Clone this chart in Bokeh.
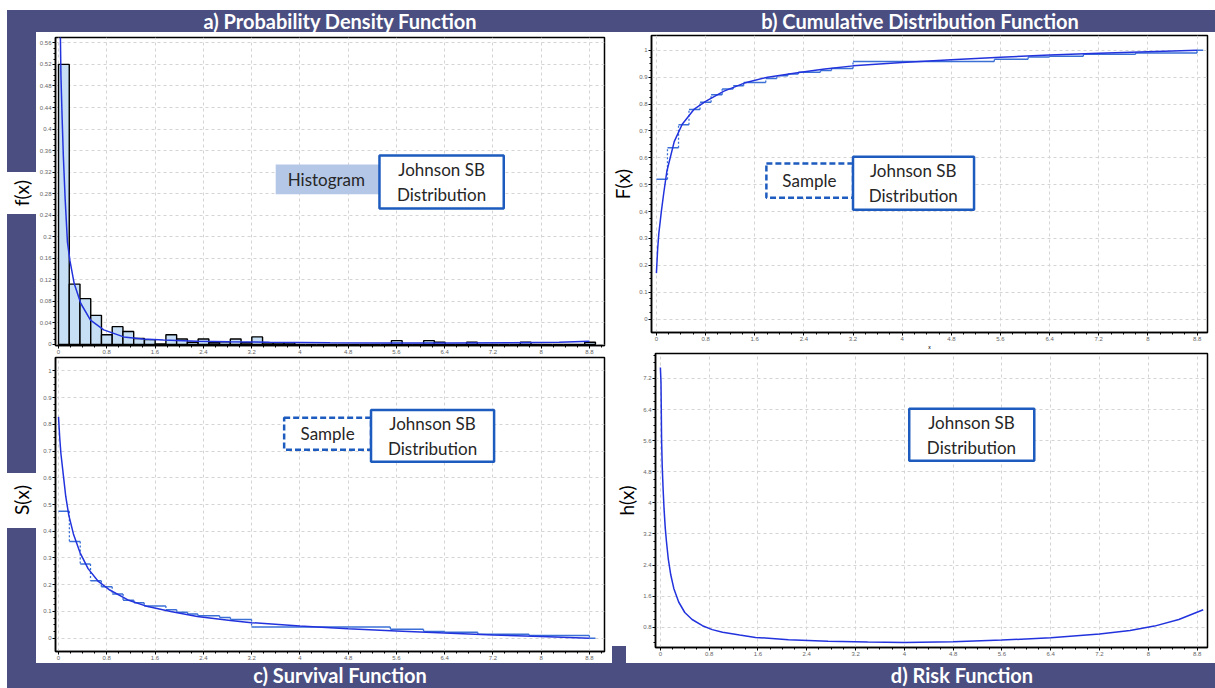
from bokeh.plotting import figure
from bokeh.layouts import row, column
from bokeh.models import Div, Spacer, FixedTicker, BoxAnnotation, Label
from bokeh.embed import file_html
from bokeh.resources import INLINE

# ---------------- data ----------------
X_TICKS = [0, 0.8, 1.6, 2.4, 3.2, 4, 4.8, 5.6, 6.4, 7.2, 8, 8.8]
X_TICK_LABELS = ["0", "0.8", "1.6", "2.4", "3.2", "4", "4.8", "5.6", "6.4", "7.2", "8", "8.8"]
PDF_Y_TICKS = [0, 0.04, 0.08, 0.12, 0.16, 0.2, 0.24, 0.28, 0.32, 0.36, 0.4, 0.44, 0.48, 0.52, 0.56]
PDF_Y_LABELS = ["0", "0.04", "0.08", "0.12", "0.16", "0.2", "0.24", "0.28", "0.32", "0.36", "0.4", "0.44", "0.48", "0.52", "0.56"]
P_Y_TICKS = [0, 0.1, 0.2, 0.3, 0.4, 0.5, 0.6, 0.7, 0.8, 0.9, 1]
P_Y_LABELS = ["0", "0.1", "0.2", "0.3", "0.4", "0.5", "0.6", "0.7", "0.8", "0.9", "1"]
H_Y_TICKS = [0.8, 1.6, 2.4, 3.2, 4, 4.8, 5.6, 6.4, 7.2]
H_Y_LABELS = ["0.8", "1.6", "2.4", "3.2", "4", "4.8", "5.6", "6.4", "7.2"]

# histogram: 50 bins of equal width starting at 0
BIN_WIDTH = 0.178
hist_heights = [0.52, 0.112, 0.085, 0.054, 0.018, 0.033, 0.024, 0.011, 0.009, 0.001,
                0.018, 0.010, 0.004, 0.010, 0.003, 0.005, 0.010, 0.003, 0.014, 0.003,
                0.003, 0.003, 0.0, 0.0, 0.0, 0.0, 0.0, 0.0, 0.0, 0.0,
                0.0, 0.007, 0.0, 0.0, 0.007, 0.004, 0.0, 0.0, 0.004, 0.0,
                0.0, 0.0, 0.0, 0.004, 0.0, 0.0, 0.0, 0.0, 0.0, 0.004]

# fitted Johnson SB density
pdf_x = [0.025, 0.04, 0.06, 0.08, 0.11, 0.148, 0.19, 0.26, 0.37, 0.53, 0.75, 1.08, 1.4, 1.74,
         2.3, 2.84, 3.5, 4.5, 5.5, 6.5, 7.5, 8.3, 8.8]
pdf_y = [0.62, 0.50, 0.42, 0.35, 0.27, 0.19, 0.155, 0.113, 0.076, 0.045, 0.027, 0.014, 0.010,
         0.008, 0.006, 0.005, 0.004, 0.003, 0.0025, 0.0025, 0.003, 0.004, 0.006]

# fitted CDF
cdf_x = [0.0, 0.02, 0.04, 0.08, 0.12, 0.17, 0.29, 0.42, 0.61, 0.80, 1.1, 1.43, 1.81, 2.35,
         2.74, 3.2, 4.0, 4.8, 5.6, 6.4, 7.2, 8.0, 8.8]
cdf_y = [0.171, 0.26, 0.32, 0.40, 0.47, 0.55, 0.66, 0.725, 0.78, 0.81, 0.848, 0.878, 0.90,
         0.918, 0.93, 0.942, 0.955, 0.965, 0.974, 0.982, 0.989, 0.995, 1.0]

# sample (empirical) steps
step_edges = [0.0, 0.18, 0.36, 0.53, 0.71, 0.89, 1.07, 1.25, 1.42, 1.78, 1.96, 2.14, 2.31,
              2.67, 2.85, 3.2, 5.5, 6.05, 6.4, 6.95, 7.8, 8.8, 8.9]
ecdf_levels = [0.52, 0.637, 0.723, 0.78, 0.807, 0.835, 0.856, 0.868, 0.88, 0.895, 0.905, 0.912,
               0.918, 0.925, 0.932, 0.958, 0.967, 0.975, 0.978, 0.985, 0.99, 1.0]
esurv_levels = [0.475, 0.362, 0.277, 0.215, 0.192, 0.165, 0.142, 0.132, 0.12, 0.106, 0.097, 0.09,
                0.084, 0.077, 0.07, 0.042, 0.033, 0.025, 0.022, 0.015, 0.01, 0.0]

# fitted survival
surv_x = [0.0, 0.02, 0.04, 0.08, 0.12, 0.17, 0.247, 0.356, 0.49, 0.66, 0.85, 1.15, 1.48,
          1.86, 2.3, 2.85, 3.2, 4.0, 4.8, 5.6, 6.4, 7.2, 8.0, 8.8]
surv_y = [0.828, 0.75, 0.69, 0.61, 0.53, 0.46, 0.39, 0.32, 0.26, 0.212, 0.18, 0.143, 0.118,
          0.10, 0.081, 0.066, 0.058, 0.045, 0.035, 0.027, 0.019, 0.012, 0.006, 0.0]

# fitted hazard
haz_x = [0.0, 0.01, 0.02, 0.03, 0.045, 0.06, 0.08, 0.1, 0.13, 0.17, 0.22, 0.3, 0.4, 0.52,
         0.69, 0.85, 1.02, 1.3, 1.56, 2.1, 2.75, 3.4, 4.0, 4.8, 5.6, 6.4, 7.2, 7.7, 8.1, 8.5, 8.9]
haz_y = [7.48, 7.1, 5.6, 4.95, 4.35, 3.85, 3.35, 3.0, 2.55, 2.15, 1.8, 1.45, 1.18, 1.0,
         0.84, 0.74, 0.67, 0.6, 0.54, 0.48, 0.44, 0.42, 0.41, 0.43, 0.47, 0.53, 0.63, 0.72,
         0.83, 1.0, 1.25]

TITLES = ["a) Probability Density Function", "b) Cumulative Distribution Function",
          "c) Survival Function", "d) Risk Function"]

# ---------------- styles ----------------
BAND = "#4a4e80"
CURVE = "#2233dd"
SAMPLE = "#3b6fd6"
LEG_BLUE = "#1d5bbf"
TEXT = "#262626"
FONT = "Lato"


def make_fig(w, h, xr, yr, bl, br, bt, bb, yticks, ylabels, yminor, **kw):
    p = figure(width=w, height=h, x_range=xr, y_range=yr, output_backend="svg",
               toolbar_location=None, min_border_left=bl, min_border_right=br,
               min_border_top=bt, min_border_bottom=bb, background_fill_color="white",
               outline_line_color="black", outline_line_width=1.5, **kw)
    p.xaxis.ticker = FixedTicker(ticks=X_TICKS, minor_ticks=[i * 0.2 for i in range(46)])
    p.yaxis.ticker = FixedTicker(ticks=yticks, minor_ticks=yminor)
    p.xaxis.major_label_overrides = {t: s for t, s in zip(X_TICKS, X_TICK_LABELS)}
    p.yaxis.major_label_overrides = {t: s for t, s in zip(yticks, ylabels)}
    for ax in p.axis:
        ax.axis_line_color = "black"
        ax.axis_line_width = 1.5
        ax.major_tick_line_color = "black"
        ax.major_tick_out = 3
        ax.major_tick_in = 0
        ax.minor_tick_line_color = "black"
        ax.minor_tick_out = 2
        ax.minor_tick_in = 0
        ax.major_label_text_font_size = "6px"
        ax.major_label_text_color = "#666666"
        ax.major_label_standoff = 1
        ax.axis_label_text_font = FONT
        ax.axis_label_text_font_style = "normal"
        ax.axis_label_text_color = "black"
    for g in (p.xgrid, p.ygrid):
        g.grid_line_color = "#d4d4d4"
        g.grid_line_dash = "3 3"
        g.grid_line_width = 1
    return p


def legend_box(p, left, right, bottom, top, fill, line, dash, text, tx, ty):
    p.add_layout(BoxAnnotation(left=left, right=right, bottom=bottom, top=top,
                               fill_color=fill, fill_alpha=1.0, line_color=line,
                               line_width=2.5, line_dash=dash, line_alpha=1.0))
    p.add_layout(Label(x=tx, y=ty, text=text, text_align="center", text_baseline="middle",
                       text_font=FONT, text_font_size="17px", text_color=TEXT,
                       text_line_height=1.2))


def draw_steps(p, levels):
    x0 = step_edges[:-1]
    x1 = step_edges[1:]
    p.segment(x0=x0, y0=levels, x1=x1, y1=levels, line_color=SAMPLE, line_width=1.5)
    p.segment(x0=x1[:-1], y0=levels[:-1], x1=x1[:-1], y1=levels[1:], line_color=SAMPLE,
              line_width=1.3, line_dash="2 2")


bin_left = [i * BIN_WIDTH for i in range(len(hist_heights))]
bin_right = [(i + 1) * BIN_WIDTH for i in range(len(hist_heights))]

# ---- a) PDF ----
pa = make_fig(572, 324, (-0.05, 9.05), (-0.002, 0.57), 19, 4, 5, 11,
              PDF_Y_TICKS, PDF_Y_LABELS, [i * 0.01 for i in range(58)], border_fill_color="white")
pa.quad(left=bin_left, right=bin_right, bottom=0, top=hist_heights, fill_color="#c6dff5",
        line_color="black", line_width=1.4)
pa.line(pdf_x, pdf_y, line_color=CURVE, line_width=1.5)
legend_box(pa, 3.60, 5.32, 0.279, 0.334, "#b4c7e7", None, "solid", "Histogram", 4.44, 0.306)
legend_box(pa, 5.32, 7.38, 0.2525, 0.351, "white", LEG_BLUE, "solid", "Johnson SB\nDistribution", 6.35, 0.302)

# ---- b) CDF ----
pb = make_fig(607, 320, (-0.08, 8.97), (-0.05, 1.055), 39, 8, 3, 15,
              P_Y_TICKS, P_Y_LABELS, [i * 0.025 for i in range(41)], border_fill_color="white")
pb.yaxis.axis_label = "F(x)"
pb.yaxis.axis_label_text_font_size = "19px"
pb.yaxis.axis_label_standoff = 2
pb.xaxis.axis_label = "x"
pb.xaxis.axis_label_text_font_size = "5px"
pb.xaxis.axis_label_standoff = 0
draw_steps(pb, ecdf_levels)
pb.line(cdf_x, cdf_y, line_color=CURVE, line_width=1.5)
legend_box(pb, 1.79, 3.20, 0.451, 0.579, "white", LEG_BLUE, "6 3", "Sample", 2.49, 0.515)
legend_box(pb, 3.20, 5.17, 0.407, 0.604, "white", LEG_BLUE, "solid", "Johnson SB\nDistribution", 4.18, 0.505)

# ---- c) Survival ----
pc = make_fig(572, 307, (-0.05, 9.05), (-0.05, 1.05), 19, 4, 1, 12,
              P_Y_TICKS, P_Y_LABELS, [i * 0.025 for i in range(41)], border_fill_color="white")
draw_steps(pc, esurv_levels)
pc.line(surv_x, surv_y, line_color=CURVE, line_width=1.5)
legend_box(pc, 3.74, 5.18, 0.705, 0.825, "white", LEG_BLUE, "6 3", "Sample", 4.46, 0.765)
legend_box(pc, 5.18, 7.22, 0.660, 0.854, "white", LEG_BLUE, "solid", "Johnson SB\nDistribution", 6.2, 0.757)

# ---- d) Hazard ----  (transparent border so the host background shows the corner block)
pd_ = make_fig(603, 311, (-0.08, 8.97), (0.28, 7.84), 34, 8, 1, 16,
               H_Y_TICKS, H_Y_LABELS, [i * 0.2 for i in range(1, 40)], border_fill_color=None,
               styles={"background": f"linear-gradient({BAND},{BAND}) 0px 294px / 14px 17px no-repeat, white"})
pd_.yaxis.axis_label = "h(x)"
pd_.yaxis.axis_label_text_font_size = "19px"
pd_.yaxis.axis_label_standoff = 2
pd_.line(haz_x, haz_y, line_color=CURVE, line_width=1.5)
legend_box(pd_, 4.08, 6.13, 5.08, 6.42, "white", LEG_BLUE, "solid", "Johnson SB\nDistribution", 5.1, 5.75)

# ---------------- bands / titles ----------------
title_css = ("position:absolute;color:white;font-family:Lato;font-weight:bold;font-size:20px;"
             "text-align:center;white-space:nowrap;")
top_html = (
    f'<div style="position:relative;width:1215px;height:32px;background:white;">'
    f'<div style="position:absolute;left:7px;top:10px;width:1208px;height:22px;background:{BAND};"></div>'
    f'<div style="{title_css}left:40px;top:10px;width:600px;height:22px;line-height:22px;">{TITLES[0]}</div>'
    f'<div style="{title_css}left:670px;top:10px;width:500px;height:22px;line-height:22px;">{TITLES[1]}</div>'
    f'</div>')
top_div = Div(text=top_html, width=1215, height=32, margin=0)

lab_css = ("position:absolute;left:22px;transform:translate(-50%,-50%) rotate(-90deg);"
           "font-family:Lato;font-size:19px;color:black;white-space:nowrap;")
band_html = (
    f'<div style="position:relative;width:36px;height:631px;background:white;">'
    f'<div style="position:absolute;left:7px;top:0;width:29px;height:631px;background:{BAND};"></div>'
    f'<div style="position:absolute;left:7px;top:140px;width:29px;height:42px;background:white;"></div>'
    f'<div style="position:absolute;left:7px;top:441px;width:29px;height:55px;background:white;"></div>'
    f'<div style="{lab_css}top:161px;">f(x)</div>'
    f'<div style="{lab_css}top:468px;">S(x)</div>'
    f'</div>')
band_div = Div(text=band_html, width=36, height=631, margin=0)

bottom_html = (
    f'<div style="position:relative;width:1215px;height:25px;background:white;">'
    f'<div style="position:absolute;left:7px;top:0;width:1208px;height:25px;background:{BAND};"></div>'
    f'<div style="{title_css}left:40px;top:0;width:600px;height:25px;line-height:25px;">{TITLES[2]}</div>'
    f'<div style="{title_css}left:762px;top:0;width:400px;height:25px;line-height:25px;">{TITLES[3]}</div>'
    f'</div>')
bottom_div = Div(text=bottom_html, width=1215, height=25, margin=0)

left_col = column(pa, pc, spacing=0)
right_col = column(pb, row(Spacer(width=4, height=311, margin=0), pd_, spacing=0), spacing=0)
middle = row(band_div, left_col, right_col, spacing=0)
layout = column(top_div, middle, bottom_div, spacing=0)

open("out.html", "w").write(file_html(layout, INLINE))
